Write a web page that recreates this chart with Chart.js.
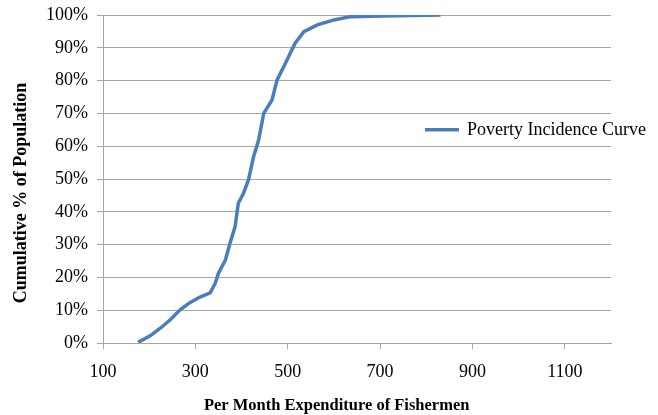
<!DOCTYPE html>
<html>
<head>
<meta charset="utf-8">
<script src="https://cdn.jsdelivr.net/npm/chart.js@4/dist/chart.umd.min.js"></script>
<style>
  html, body { margin: 0; padding: 0; background: #fff; }
  #wrap { width: 658px; height: 415px; }
</style>
</head>
<body>
<div id="wrap"><canvas id="chart" width="658" height="415"></canvas></div>
<script>
// monthly expenditure (x) vs cumulative share of population (y, %)
const expenditure = [176, 202, 224, 245, 267, 288, 310, 332, 343, 350, 365, 375, 386, 393, 404, 415,
  426, 437, 448, 466, 477, 495, 516, 535, 564, 600, 636, 708, 831];
const cumulativePct = [0.2, 2.2, 4.5, 7.0, 10.1, 12.3, 14.0, 15.3, 18.2, 21.3, 25.3, 30.4, 35.5, 42.6, 45.6, 49.7,
  56.8, 61.9, 70.0, 74.1, 80.2, 85.3, 91.4, 94.9, 97.0, 98.5, 99.5, 99.7, 100];
const xTicks = [100, 300, 500, 700, 900, 1100];
const yTicks = [0, 10, 20, 30, 40, 50, 60, 70, 80, 90, 100];
const xTitle = 'Per Month Expenditure of Fishermen';
const yTitle = 'Cumulative % of Population';

const LINE = '#4a7ebb';
const GRID = '#a6a6a6';
const SERIF = '"Liberation Serif", "Times New Roman", serif';

// legend + axis titles, placed like the excel original (titles sit a bit off-centre there)
const excelDecor = {
    id: 'excelDecor',
    afterDraw(chart) {
        const ctx = chart.ctx;
        const ds = chart.data.datasets[0];
        const area = chart.chartArea;
        const ly = area.top + (area.bottom - area.top) * 0.35;
        const lx = area.right - 186;
        ctx.save();
        ctx.strokeStyle = ds.borderColor;
        ctx.lineWidth = 3.5;
        ctx.beginPath();
        ctx.moveTo(lx, ly);
        ctx.lineTo(lx + 34, ly);
        ctx.stroke();
        ctx.fillStyle = '#000';
        ctx.font = '18px ' + SERIF;
        ctx.textBaseline = 'middle';
        ctx.fillText(ds.label, lx + 42, ly);

        // axis titles
        ctx.font = 'bold 16.5px ' + SERIF;
        ctx.textAlign = 'center';
        ctx.fillText(xTitle, area.left + (area.right - area.left) * 0.46, 406);
        ctx.translate(21, area.top + (area.bottom - area.top) * 0.543);
        ctx.rotate(-Math.PI / 2);
        ctx.font = 'bold 18px ' + SERIF;
        ctx.fillText(yTitle, 0, 0);
        ctx.restore();
    }
};

new Chart(document.getElementById('chart'), {
    type: 'scatter',
    data: {
        datasets: [{
            label: 'Poverty Incidence Curve',
            data: expenditure.map((v, i) => ({ x: v, y: cumulativePct[i] })),
            showLine: true,
            borderColor: LINE,
            backgroundColor: LINE,
            borderWidth: 3.5,
            pointRadius: 0,
            tension: 0
        }]
    },
    options: {
        responsive: false,
        animation: false,
        layout: { padding: { left: 0, right: 47, top: 15, bottom: 0 } },
        plugins: {
            legend: { display: false },
            tooltip: { enabled: false }
        },
        scales: {
            x: {
                type: 'linear',
                min: 100,
                max: 1200,
                afterBuildTicks: s => { s.ticks = xTicks.map(v => ({ value: v })); },
                afterFit: s => { s.height = 72; s.paddingLeft = 0; s.paddingRight = 0; },
                grid: { drawOnChartArea: false, color: GRID, tickLength: 6 },
                border: { color: GRID, width: 1 },
                ticks: {
                    color: '#000',
                    padding: 12,
                    maxRotation: 0,
                    font: { family: SERIF, size: 18 },
                    callback: v => String(v)
                }
            },
            y: {
                min: 0,
                max: 100,
                afterBuildTicks: s => { s.ticks = yTicks.map(v => ({ value: v })); },
                afterFit: s => { s.width = 103; s.paddingTop = 0; s.paddingBottom = 0; },
                grid: { color: GRID, tickLength: 6 },
                border: { color: GRID, width: 1 },
                ticks: {
                    color: '#000',
                    padding: 9,
                    font: { family: SERIF, size: 18 },
                    callback: v => v + '%'
                }
            }
        }
    },
    plugins: [excelDecor]
});
</script>
</body>
</html>
